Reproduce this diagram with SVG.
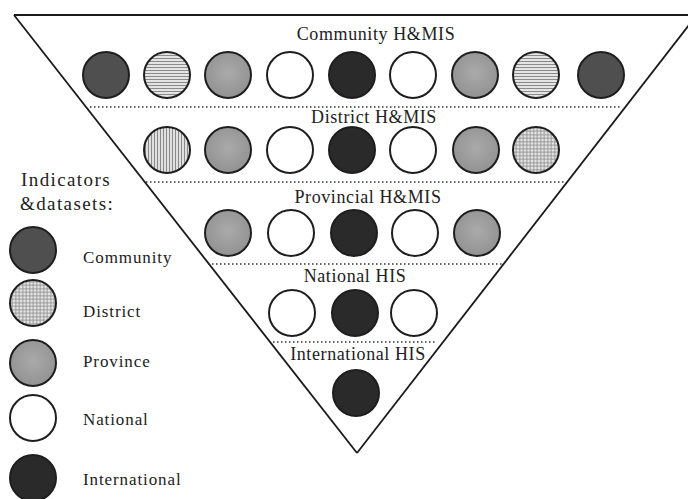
<svg xmlns="http://www.w3.org/2000/svg" width="688" height="499" viewBox="0 0 688 499">
<style>
text{font-family:"Liberation Serif","Times New Roman",serif;fill:#222}
.hdr{font-size:18px;letter-spacing:0.6px;text-anchor:middle}
.leg{font-size:17px;letter-spacing:0.9px}
.ttl{font-size:19px;letter-spacing:1.4px}
circle{stroke:#1e1e1e;stroke-width:2}
.com{fill:#4f4f4f}
.int{fill:#2a2a2a}
.nat{fill:#ffffff}
.pro{fill:url(#mottle)}
.dh{fill:url(#hatchH)}
.dv{fill:url(#hatchV)}
.dg{fill:url(#grid)}
.edge{stroke:#1a1a1a;stroke-width:1.8;fill:none}
.dot{stroke:#333;stroke-width:1.4;stroke-dasharray:1.5 2.5;fill:none}
</style>
<defs>
<pattern id="hatchH" width="4" height="3" patternUnits="userSpaceOnUse">
<rect width="4" height="3" fill="#e4e4e4"/>
<line x1="0" y1="1.5" x2="4" y2="1.5" stroke="#8a8a8a" stroke-width="1"/>
</pattern>
<pattern id="hatchV" width="3" height="4" patternUnits="userSpaceOnUse">
<rect width="3" height="4" fill="#e0e0e0"/>
<line x1="1.5" y1="0" x2="1.5" y2="4" stroke="#8a8a8a" stroke-width="1"/>
</pattern>
<pattern id="grid" width="3.5" height="3.5" patternUnits="userSpaceOnUse">
<rect width="3.5" height="3.5" fill="#e8e8e8"/>
<path d="M0 1.75H3.5M1.75 0V3.5" stroke="#8c8c8c" stroke-width="0.9"/>
</pattern>
<radialGradient id="mottle" cx="0.5" cy="0.45" r="0.55">
<stop offset="0" stop-color="#aaaaaa"/>
<stop offset="1" stop-color="#929292"/>
</radialGradient>
</defs>
<rect width="688" height="499" fill="#ffffff"/>
<g id="connectors">
<line class="edge" x1="14" y1="15" x2="688" y2="15" stroke-width="2.4"/>
<line class="edge" x1="14" y1="15" x2="357" y2="453"/>
<line class="edge" x1="357" y1="453" x2="692" y2="21"/>
<line class="dot" x1="90" y1="107" x2="620" y2="107"/>
<line class="dot" x1="146" y1="182" x2="565" y2="182"/>
<line class="dot" x1="208" y1="264" x2="503" y2="264"/>
<line class="dot" x1="273" y1="342" x2="437" y2="342"/>
</g>
<g id="community-his">
<text class="hdr" x="376" y="40">Community H&amp;MIS</text>
<circle class="com" cx="106" cy="75" r="23"/>
<circle class="dh" cx="167" cy="75" r="23"/>
<circle class="pro" cx="228" cy="75" r="23"/>
<circle class="nat" cx="290" cy="75" r="23"/>
<circle class="int" cx="352" cy="75" r="23"/>
<circle class="nat" cx="413" cy="75" r="23"/>
<circle class="pro" cx="475" cy="75" r="23"/>
<circle class="dh" cx="536" cy="75" r="23"/>
<circle class="com" cx="601" cy="75" r="23"/>
</g>
<g id="district-his">
<text class="hdr" x="374" y="123">District H&amp;MIS</text>
<circle class="dv" cx="167" cy="150" r="23"/>
<circle class="pro" cx="228" cy="150" r="23"/>
<circle class="nat" cx="290" cy="150" r="23"/>
<circle class="int" cx="352" cy="150" r="23"/>
<circle class="nat" cx="413" cy="150" r="23"/>
<circle class="pro" cx="476" cy="150" r="23"/>
<circle class="dg" cx="536" cy="150" r="23"/>
</g>
<g id="provincial-his">
<text class="hdr" x="368" y="203">Provincial H&amp;MIS</text>
<circle class="pro" cx="228" cy="233" r="23"/>
<circle class="nat" cx="291" cy="233" r="23"/>
<circle class="int" cx="354" cy="233" r="23"/>
<circle class="nat" cx="415" cy="233" r="23"/>
<circle class="pro" cx="477" cy="233" r="23"/>
</g>
<g id="national-his">
<text class="hdr" x="355" y="282">National HIS</text>
<circle class="nat" cx="292" cy="313" r="23"/>
<circle class="int" cx="355" cy="313" r="23"/>
<circle class="nat" cx="414" cy="313" r="23"/>
</g>
<g id="international-his">
<text class="hdr" x="358" y="360">International HIS</text>
<circle class="int" cx="356" cy="393" r="23"/>
</g>
<g id="legend">
<text class="ttl" x="21" y="186">Indicators</text>
<text class="ttl" x="20" y="210">&amp;datasets:</text>
<circle class="com" cx="33" cy="250" r="23"/>
<text class="leg" x="83" y="263">Community</text>
<circle class="dg" cx="33" cy="303" r="23"/>
<text class="leg" x="83" y="317">District</text>
<circle class="pro" cx="33" cy="363" r="23"/>
<text class="leg" x="83" y="367">Province</text>
<circle class="nat" cx="33" cy="418" r="23"/>
<text class="leg" x="83" y="425">National</text>
<circle class="int" cx="33" cy="478" r="23"/>
<text class="leg" x="83" y="485">International</text>
</g>
</svg>
